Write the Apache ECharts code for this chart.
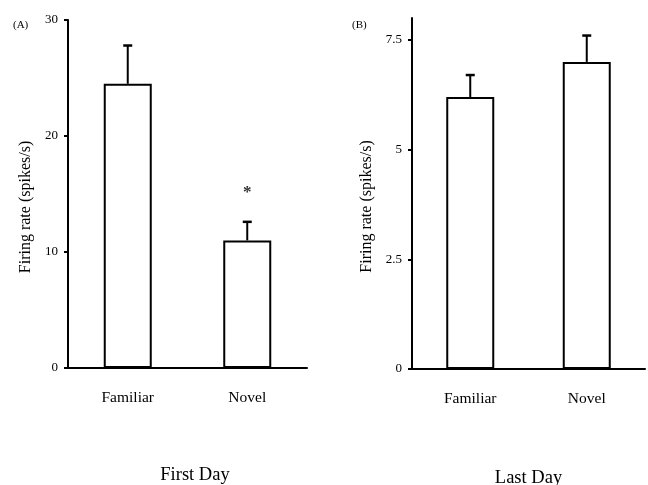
<!DOCTYPE html>
<html>
<head>
<meta charset="utf-8">
<script src="https://cdn.jsdelivr.net/npm/echarts@6/dist/echarts.min.js"></script>
<style>html,body{margin:0;padding:0;background:#fff}#c{width:648px;height:485px}</style>
</head>
<body>
<div id="c"></div>
<script>
var categories = ['Familiar', 'Novel'];
var firstDayMeans = [24.5, 11.0];
var firstDaySem = [3.3, 1.6];
var firstDaySig = ['', '*'];
var lastDayMeans = [6.2, 7.0];
var lastDaySem = [0.5, 0.6];
var lastDaySig = ['', ''];
var firstDayTicks = [0, 10, 20, 30];
var lastDayTicks = [0, 2.5, 5, 7.5];
var panelTitles = ['(A)', '(B)'];
var dayTitles = ['First Day', 'Last Day'];
var yName = 'Firing rate (spikes/s)';

var FONT = 'Liberation Serif';
var chart = echarts.init(document.getElementById('c'));

function errData(means, sem, sig) {
  return means.map(function (m, i) { return [i, m, m + sem[i], sig[i]]; });
}
function renderErr(params, api) {
  var x = api.value(0);
  var base = api.coord([x, api.value(1)]);
  var top = api.coord([x, api.value(2)]);
  var children = [
    { type: 'line', shape: { x1: base[0], y1: base[1], x2: top[0], y2: top[1] }, style: { stroke: '#000', lineWidth: 2 } },
    { type: 'line', shape: { x1: top[0] - 4.5, y1: top[1], x2: top[0] + 4.5, y2: top[1] }, style: { stroke: '#000', lineWidth: 2.5 } }
  ];
  var s = api.value(3);
  if (s) {
    children.push({ type: 'text', style: { text: s, x: top[0], y: top[1] - 29, align: 'center', verticalAlign: 'middle', font: 'bold 17px ' + FONT, fill: '#333' } });
  }
  return { type: 'group', children: children };
}

function xAxis(gi, name, pad, gap) {
  return {
    type: 'category', gridIndex: gi, data: categories, name: name,
    nameLocation: 'middle', nameGap: gap,
    nameTextStyle: { fontFamily: FONT, fontSize: 18.5, color: '#000', padding: pad },
    axisLine: { lineStyle: { color: '#000', width: 2 } },
    axisTick: { show: false },
    axisLabel: { fontFamily: FONT, fontSize: 15.5, color: '#000', margin: 22 }
  };
}
function yAxis(gi, max, ticks, gap) {
  return {
    type: 'value', gridIndex: gi, min: 0, max: max,
    name: yName, nameLocation: 'middle', nameGap: gap,
    nameTextStyle: { fontFamily: FONT, fontSize: 16, color: '#000', padding: [0, 26, 0, 0] },
    splitLine: { show: false },
    axisLine: { show: true, lineStyle: { color: '#000', width: 2 } },
    axisTick: { show: true, length: 4, lineStyle: { color: '#000', width: 2 }, customValues: ticks },
    axisLabel: { fontFamily: FONT, fontSize: 13, color: '#000', margin: 10, customValues: ticks }
  };
}
function barSeries(idx, data) {
  return {
    type: 'bar', xAxisIndex: idx, yAxisIndex: idx, data: data, barWidth: 48,
    itemStyle: { color: '#fff', borderColor: '#000', borderWidth: 2 },
    z: 2
  };
}
function errSeries(idx, data) {
  return { type: 'custom', xAxisIndex: idx, yAxisIndex: idx, data: data, renderItem: renderErr, z: 1 };
}

chart.setOption({
  animation: false,
  backgroundColor: '#fff',
  title: [
    { text: panelTitles[0], left: 8, top: 15, textStyle: { fontFamily: FONT, fontSize: 11, fontWeight: 'normal', color: '#000' } },
    { text: panelTitles[1], left: 347, top: 15, textStyle: { fontFamily: FONT, fontSize: 11, fontWeight: 'normal', color: '#000' } }
  ],
  grid: [
    { left: 68, right: 341, top: 20, bottom: 117, outerBoundsMode: 'none', containLabel: false },
    { left: 412, right: 3, top: 18, bottom: 116, outerBoundsMode: 'none', containLabel: false }
  ],
  xAxis: [xAxis(0, dayTitles[0], [0, 0, 0, 15], 98), xAxis(1, dayTitles[1], [0, 0, 0, 0], 100)],
  yAxis: [yAxis(0, 30, firstDayTicks, 34), yAxis(1, 8, lastDayTicks, 37)],
  series: [
    barSeries(0, firstDayMeans),
    errSeries(0, errData(firstDayMeans, firstDaySem, firstDaySig)),
    barSeries(1, lastDayMeans),
    errSeries(1, errData(lastDayMeans, lastDaySem, lastDaySig))
  ]
});
</script>
</body>
</html>
